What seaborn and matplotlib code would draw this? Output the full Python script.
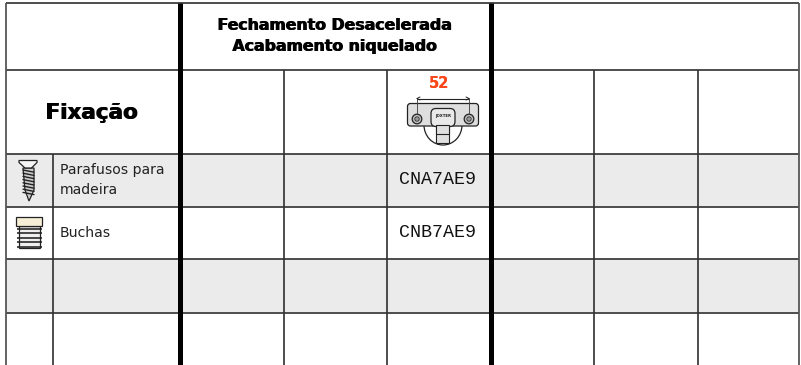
import matplotlib
matplotlib.use('Agg')
import matplotlib.pyplot as plt
from matplotlib.colors import ListedColormap
from matplotlib.patches import Arc, Circle, FancyBboxPatch, Polygon, Rectangle
import numpy as np
import seaborn as sns

W, H = 801, 365

# table content
title_lines = ['Fechamento Desacelerada', 'Acabamento niquelado']
section_label = 'Fixação'
row_labels = ['Parafusos para\nmadeira', 'Buchas', '', '']
row_codes = ['CNA7AE9', 'CNB7AE9', '', '']
row_shade = [[1], [0], [1], [0]]
dimension = '52'

# grid in pixels
col_x = [6, 53, 180.2, 283.5, 387, 490.8, 594, 698, 799]
row_y = [3, 70, 153.5, 206.5, 259, 312.5, 364.5]

GREY = '#ebebeb'
LINE = '#333333'
INK = '#222222'

sns.set_theme(style='white')
fig = plt.figure(figsize=(W / 100, H / 100), dpi=100)

# shaded body rows
ax_body = fig.add_axes([col_x[0] / W, 0, (col_x[-1] - col_x[0]) / W, (H - row_y[2]) / H])
sns.heatmap(row_shade, cmap=ListedColormap(['white', GREY]), cbar=False,
            xticklabels=False, yticklabels=False, ax=ax_body)

# everything else goes on top in pixel coordinates
ax = fig.add_axes([0, 0, 1, 1], facecolor='none')
ax.set_xlim(0, W)
ax.set_ylim(H, 0)
ax.axis('off')


def vline(x, y0, y1, lw=1.5, color=LINE):
    ax.plot([x, x], [y0, y1], color=color, lw=lw * 0.72, solid_capstyle='butt')


def hline(y, x0, x1, lw=1.5, color=LINE):
    ax.plot([x0, x1], [y, y], color=color, lw=lw * 0.72, solid_capstyle='butt')


def heavy_text(x, y, s, size, color='black'):
    # double strike, no black weight of this face is installed
    for dx in (-0.5, 0.5):
        ax.text(x + dx, y, s, ha='center', va='center', fontsize=size, color=color,
                family='DejaVu Sans', fontweight='bold')


for y in row_y[:-1]:
    hline(y, col_x[0], col_x[-1], 1.7)
hline(row_y[-1], 0, W, 1, '#e6e6e6')

vline(col_x[0], row_y[0], H, 1.8, '#555555')
vline(col_x[-1], row_y[0], H, 1.8, '#555555')
vline(col_x[1], row_y[2], H, 1.7)
for x in col_x[3:5] + col_x[6:8]:
    vline(x, row_y[1], H, 1.7)
vline(col_x[2], row_y[0], H, 5, 'black')
vline(col_x[5], row_y[0], H, 5, 'black')

# header text
for y, line in zip([26, 47], title_lines):
    heavy_text(335, y, line, 11.3)
heavy_text(92, 113, section_label, 15.5)

# rows
row_mid = [(a + b) / 2 for a, b in zip(row_y[2:-1], row_y[3:])]
for y, label, code in zip(row_mid, row_labels, row_codes):
    ax.text(60, y, label, ha='left', va='center', fontsize=10.1, color=INK,
            family='DejaVu Sans', linespacing=1.5)
    ax.text(437.5, y, code, ha='center', va='center', fontsize=13.2, color='#111111',
            family='Liberation Mono')

# hinge drawing
heavy_text(439, 84, dimension, 10.5, '#f9481c')
ax.add_patch(Arc((443, 125), 38, 40, theta1=0, theta2=180, color=INK, lw=0.9))
ax.add_patch(Rectangle((436, 126), 13, 17, facecolor='#e0e0e0', edgecolor=INK, lw=0.8))
hline(134, 436, 449, 1, INK)
ax.add_patch(FancyBboxPatch((407.5, 103.5), 71, 22.5, boxstyle='round,pad=0,rounding_size=3',
                            facecolor='#dedede', edgecolor=INK, lw=0.9))
ax.add_patch(FancyBboxPatch((431, 108.5), 24, 18, boxstyle='round,pad=0,rounding_size=5',
                            facecolor='#e9e9e9', edgecolor=INK, lw=0.9))
ax.add_patch(Rectangle((436, 125), 13, 9, facecolor='#e0e0e0', edgecolor=INK, lw=0.8))
for cx in (417, 469):
    ax.add_patch(Circle((cx, 119), 4.8, facecolor='#bdbdbd', edgecolor=INK, lw=0.9))
    ax.add_patch(Circle((cx, 119), 2.2, facecolor='#999999', edgecolor=INK, lw=0.5))
hline(98.5, 417, 469, 1.1, INK)
for cx, sign in ((417, 1), (469, -1)):
    vline(cx, 98, 114, 0.9, '#444444')
    ax.plot([cx, cx + 3 * sign], [98.5, 97], color=INK, lw=0.7)
    ax.plot([cx, cx + 3 * sign], [98.5, 100], color=INK, lw=0.7)
ax.text(443, 116, 'JOXTER', ha='center', va='center', fontsize=2.8, color=INK,
        family='DejaVu Sans', fontweight='bold')

# screw icon
ax.add_patch(Polygon([(23, 168), (34, 168), (34, 190), (29, 201), (25, 190)], closed=True,
                     facecolor='#cccccc', edgecolor=INK, lw=0.9))
for y in np.arange(170, 195, 3.2):
    ax.plot([23, 34], [y, y + 2.2], color=INK, lw=1.0)
ax.add_patch(Polygon([(19, 160.5), (37, 160.5), (37, 162.5), (31.5, 168), (25, 168), (19, 162.5)],
                     closed=True, facecolor='#f4f4f4', edgecolor=INK, lw=0.9))

# wall plug icon
ax.add_patch(Rectangle((18.5, 226), 21, 22, facecolor='#efefef', edgecolor=INK, lw=0.9))
for y in np.arange(229, 250, 4.4):
    hline(y, 16.5, 41.5, 1.6, INK)
ax.add_patch(Rectangle((16, 217), 26, 9, facecolor='#f6eed6', edgecolor=INK, lw=0.9))

fig.savefig('out.png', dpi=100)
